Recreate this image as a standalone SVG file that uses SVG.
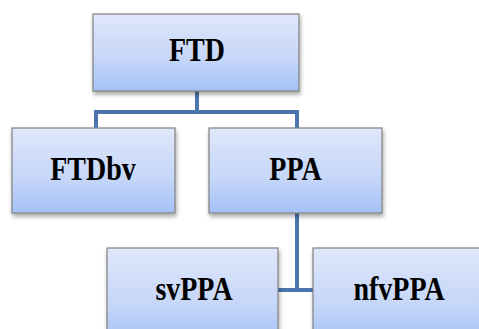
<svg xmlns="http://www.w3.org/2000/svg" width="479" height="329" viewBox="0 0 479 329">
<defs>
<linearGradient id="g" x1="0" y1="0" x2="0" y2="1">
<stop offset="0" stop-color="#dfe7fb"/>
<stop offset="0.6" stop-color="#c5d6f8"/>
<stop offset="1" stop-color="#a4c1f6"/>
</linearGradient>
<filter id="sh" x="-10%" y="-10%" width="130%" height="140%">
<feGaussianBlur in="SourceAlpha" stdDeviation="2"/>
<feOffset dx="1" dy="3" result="b"/>
<feComponentTransfer><feFuncA type="linear" slope="0.35"/></feComponentTransfer>
<feMerge><feMergeNode/><feMergeNode in="SourceGraphic"/></feMerge>
</filter>
</defs>
<style>
.box{fill:url(#g);stroke:#808080;stroke-width:1.2;filter:url(#sh)}
.t{font-family:"Liberation Serif","Times New Roman",serif;font-weight:bold;font-size:28px;fill:#000;text-anchor:middle}
.c{fill:none;stroke:#4a76ad;stroke-width:4}
</style>
<rect width="479" height="329" fill="#fff"/>
<g id="connectors">
<line class="c" x1="197" y1="91" x2="197" y2="112"/>
<polyline class="c" points="96,128 96,112 297,112 297,128"/>
<line class="c" x1="297" y1="213" x2="297" y2="290"/>
<line class="c" x1="278" y1="290" x2="313" y2="290"/>
</g>
<g id="ftd">
<rect class="box" x="93" y="14" width="206" height="77"/>
<text class="t" transform="translate(197,61) scale(1,1.17)">FTD</text>
</g>
<g id="ftdbv">
<rect class="box" x="12" y="128" width="163" height="85"/>
<text class="t" transform="translate(93,180) scale(1,1.17)">FTDbv</text>
</g>
<g id="ppa">
<rect class="box" x="209" y="128" width="173" height="85"/>
<text class="t" transform="translate(295.5,180) scale(1,1.17)">PPA</text>
</g>
<g id="svppa">
<rect class="box" x="107" y="248" width="171" height="95"/>
<text class="t" transform="translate(194,300) scale(1,1.17)">svPPA</text>
</g>
<g id="nfvppa">
<rect class="box" x="313" y="248" width="175" height="95"/>
<text class="t" transform="translate(399,300) scale(1,1.17)">nfvPPA</text>
</g>
</svg>
